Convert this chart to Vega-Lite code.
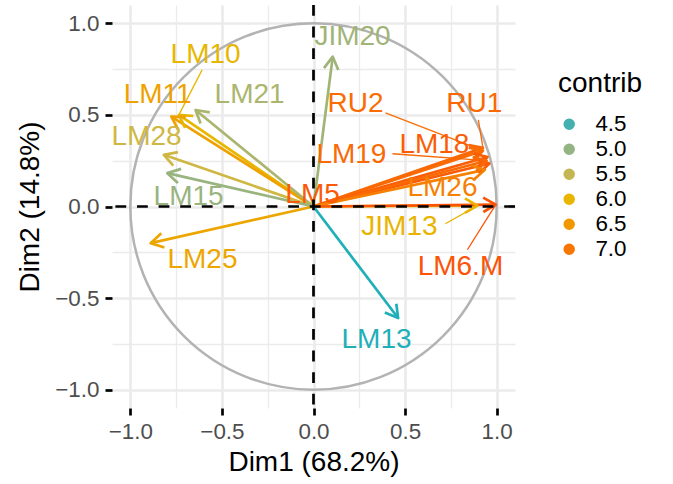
{
  "$schema": "https://vega.github.io/schema/vega-lite/v6.json",
  "width": 403,
  "height": 403,
  "autosize": {"type": "none"},
  "padding": {"left": 112, "top": 5, "right": 158, "bottom": 76},
  "background": "white",
  "config": {
    "view": {"stroke": null},
    "font": "Liberation Sans"
  },
  "data": {
    "values": [
      {"name": "JIM20", "x": 0.105, "y": 0.818, "contrib": 5.12, "lx": 0.213, "ly": 0.926},
      {"name": "LM10", "x": -0.735, "y": 0.5, "contrib": 5.95, "lx": -0.589, "ly": 0.828, "sx": -0.608, "sy": 0.746},
      {"name": "LM11", "x": -0.776, "y": 0.491, "contrib": 6.35, "lx": -0.851, "ly": 0.609},
      {"name": "LM21", "x": -0.644, "y": 0.527, "contrib": 5.22, "lx": -0.349, "ly": 0.609},
      {"name": "LM28", "x": -0.817, "y": 0.282, "contrib": 5.63, "lx": -0.911, "ly": 0.38},
      {"name": "LM15", "x": -0.798, "y": 0.182, "contrib": 5.05, "lx": -0.682, "ly": 0.053},
      {"name": "LM25", "x": -0.889, "y": -0.2, "contrib": 6.25, "lx": -0.606, "ly": -0.291},
      {"name": "LM5", "x": 0.96, "y": 0.235, "contrib": 7.37, "lx": -0.005, "ly": 0.064},
      {"name": "RU2", "x": 0.925, "y": 0.305, "contrib": 7.14, "lx": 0.229, "ly": 0.56, "sx": 0.393, "sy": 0.511},
      {"name": "RU1", "x": 0.925, "y": 0.32, "contrib": 7.21, "lx": 0.878, "ly": 0.56, "sx": 0.9, "sy": 0.473},
      {"name": "LM18", "x": 0.95, "y": 0.27, "contrib": 7.35, "lx": 0.66, "ly": 0.337},
      {"name": "LM19", "x": 0.945, "y": 0.25, "contrib": 7.2, "lx": 0.207, "ly": 0.282, "sx": 0.431, "sy": 0.288},
      {"name": "LM26", "x": 0.935, "y": 0.2, "contrib": 6.88, "lx": 0.704, "ly": 0.102},
      {"name": "JIM13", "x": 0.895, "y": 0.005, "contrib": 6.03, "lx": 0.469, "ly": -0.111, "sx": 0.72, "sy": -0.094},
      {"name": "LM6.M", "x": 0.995, "y": 0.01, "contrib": 7.46, "lx": 0.802, "ly": -0.329, "sx": 0.84, "sy": -0.236},
      {"name": "LM13", "x": 0.462, "y": -0.609, "contrib": 4.4, "lx": 0.344, "ly": -0.727}
    ]
  },
  "layer": [
    {
      "data": {"values": [{"c": 0}]},
      "mark": {"type": "point", "shape": "circle", "size": 134220, "filled": false, "stroke": "#B3B3B3", "strokeWidth": 2.5, "opacity": 1},
      "encoding": {
        "x": {
          "field": "c", "type": "quantitative",
          "scale": {"domain": [-1.1, 1.1], "nice": false, "zero": false},
          "title": "Dim1 (68.2%)",
          "axis": {
            "values": [-1, -0.75, -0.5, -0.25, 0, 0.25, 0.5, 0.75, 1],
            "format": ".1f",
            "labelExpr": "abs(datum.value*2 - round(datum.value*2)) > 0.01 ? '' : datum.label",
            "grid": true, "gridColor": "#EBEBEB",
            "gridWidth": {"condition": {"test": "abs(datum.value*2 - round(datum.value*2)) > 0.01", "value": 1.35}, "value": 2.7},
            "ticks": true, "tickColor": "black",
            "tickOpacity": {"condition": {"test": "abs(datum.value*2 - round(datum.value*2)) > 0.01", "value": 0}, "value": 1},
            "tickWidth": 2.7, "tickSize": 7, "domain": false,
            "labelFont": "Liberation Sans", "labelFontSize": 22.4, "labelColor": "#4D4D4D",
            "labelFlush": false, "labelOverlap": false, "labelPadding": 5,
            "titleFont": "Liberation Sans", "titleFontSize": 28, "titleFontWeight": "normal", "titleColor": "black", "titlePadding": 6
          }
        },
        "y": {
          "field": "c", "type": "quantitative",
          "scale": {"domain": [-1.1, 1.1], "nice": false, "zero": false},
          "title": "Dim2 (14.8%)",
          "axis": {
            "values": [-1, -0.75, -0.5, -0.25, 0, 0.25, 0.5, 0.75, 1],
            "format": ".1f",
            "labelExpr": "abs(datum.value*2 - round(datum.value*2)) > 0.01 ? '' : datum.label",
            "grid": true, "gridColor": "#EBEBEB",
            "gridWidth": {"condition": {"test": "abs(datum.value*2 - round(datum.value*2)) > 0.01", "value": 1.35}, "value": 2.7},
            "ticks": true, "tickColor": "black",
            "tickOpacity": {"condition": {"test": "abs(datum.value*2 - round(datum.value*2)) > 0.01", "value": 0}, "value": 1},
            "tickWidth": 2.7, "tickSize": 7, "domain": false,
            "labelFont": "Liberation Sans", "labelFontSize": 22.4, "labelColor": "#4D4D4D",
            "labelFlush": false, "labelOverlap": false, "labelPadding": 6,
            "titleFont": "Liberation Sans", "titleFontSize": 28, "titleFontWeight": "normal", "titleColor": "black", "titlePadding": 10
          }
        }
      }
    },
    {
      "mark": {"type": "rule", "strokeWidth": 2.7, "strokeCap": "butt"},
      "encoding": {
        "x": {"field": "x", "type": "quantitative"},
        "x2": {"datum": 0},
        "y": {"field": "y", "type": "quantitative"},
        "y2": {"datum": 0},
        "stroke": {
          "field": "contrib", "type": "quantitative",
          "scale": {"domain": [4.37, 7.51], "range": ["#00AFBB", "#E7B800", "#FC4E07"], "interpolate": "lab"},
          "legend": {
            "title": "contrib", "orient": "none", "legendX": 446, "legendY": 65,
            "gradientLength": 230, "gradientThickness": 47,
            "values": [4.5, 5, 5.5, 6, 6.5, 7], "format": ".1f",
            "labelFont": "Liberation Sans", "labelFontSize": 22.4, "labelColor": "black", "labelOffset": 15,
            "titleFont": "Liberation Sans", "titleFontSize": 28, "titleFontWeight": "normal", "titleColor": "black", "titlePadding": 15
          }
        }
      }
    },
    {
      "transform": [{"calculate": "-atan2(datum.y, datum.x) * 180 / PI", "as": "ang"}],
      "mark": {"type": "point", "shape": "M -1 -0.577 L 0 0 L -1 0.577", "size": 625, "filled": false, "strokeWidth": 2.7, "strokeJoin": "round", "opacity": 1},
      "encoding": {
        "x": {"field": "x", "type": "quantitative"},
        "y": {"field": "y", "type": "quantitative"},
        "angle": {"field": "ang", "type": "quantitative", "scale": null},
        "stroke": {"field": "contrib", "type": "quantitative"}
      }
    },
    {
      "transform": [{"filter": "isValid(datum.sx)"}],
      "mark": {"type": "rule", "strokeWidth": 1.3},
      "encoding": {
        "x": {"field": "sx", "type": "quantitative"},
        "y": {"field": "sy", "type": "quantitative"},
        "x2": {"field": "x"},
        "y2": {"field": "y"},
        "stroke": {"field": "contrib", "type": "quantitative"}
      }
    },
    {
      "mark": {"type": "text", "fontSize": 28, "font": "Liberation Sans", "align": "center", "baseline": "middle"},
      "encoding": {
        "x": {"field": "lx", "type": "quantitative"},
        "y": {"field": "ly", "type": "quantitative"},
        "text": {"field": "name"},
        "fill": {
          "field": "contrib", "type": "quantitative",
          "scale": {"domain": [4.37, 7.51], "range": ["#00AFBB", "#E7B800", "#FC4E07"], "interpolate": "lab"},
          "legend": null
        }
      }
    },
    {
      "data": {"values": [{"z": 0}]},
      "mark": {"type": "rule", "color": "black", "strokeWidth": 2.7, "strokeDash": [10.8, 10.8]},
      "encoding": {
        "x": {"field": "z", "type": "quantitative"}
      }
    },
    {
      "data": {"values": [{"z": 0}]},
      "mark": {"type": "rule", "color": "black", "strokeWidth": 2.7, "strokeDash": [10.8, 10.8]},
      "encoding": {
        "y": {"field": "z", "type": "quantitative"}
      }
    }
  ]
}
